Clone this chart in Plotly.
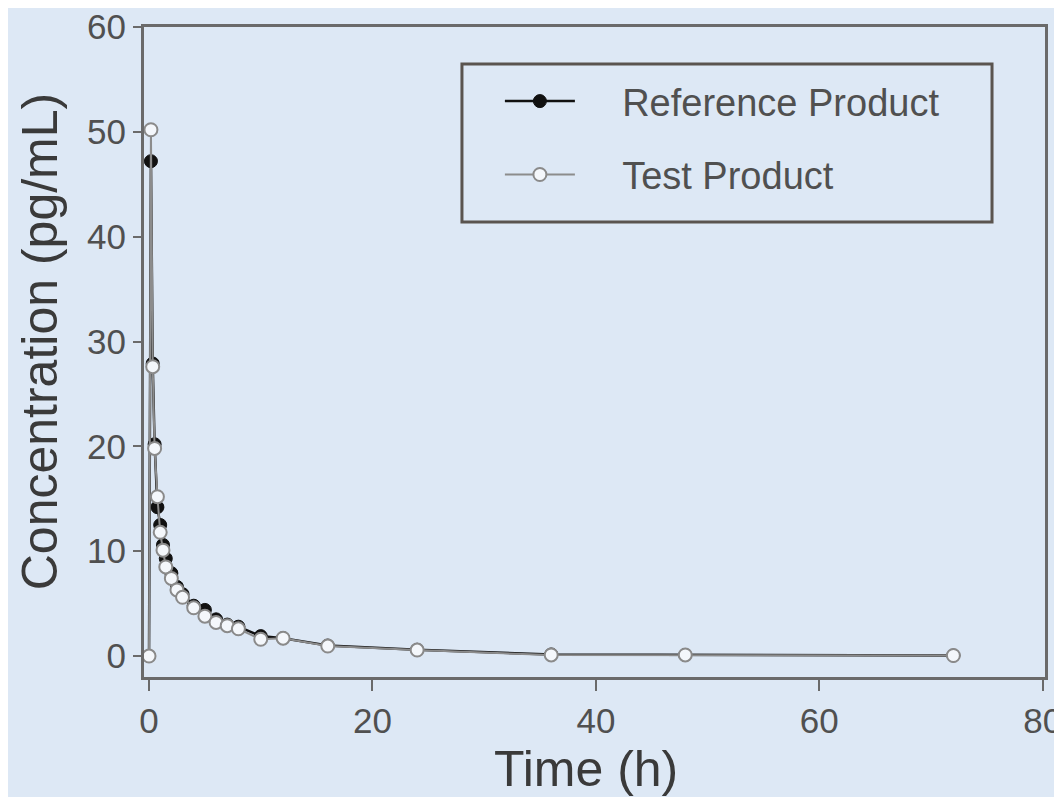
import plotly.graph_objects as go

# sampling times (h)
time_h = [0, 0.17, 0.33, 0.5, 0.75, 1, 1.25, 1.5, 2, 2.5, 3, 4, 5, 6, 7, 8,
          10, 12, 16, 24, 36, 48, 72]

# concentrations (pg/mL)
reference_conc = [0, 47.2, 27.9, 20.2, 14.2, 12.5, 10.6, 9.3, 7.9, 6.6, 5.9,
                  4.8, 4.4, 3.5, 3.0, 2.8, 1.9, 1.7, 1.0, 0.6, 0.15, 0.1, 0.05]
test_conc = [0, 50.2, 27.6, 19.8, 15.2, 11.8, 10.1, 8.5, 7.4, 6.3, 5.6,
             4.6, 3.8, 3.2, 2.9, 2.6, 1.6, 1.7, 0.95, 0.57, 0.1, 0.1, 0.05]

x_ticks = [0, 20, 40, 60, 80]
y_ticks = [0, 10, 20, 30, 40, 50, 60]

BG = "#dde8f5"
AXIS = "#6a6a6a"
TEXT = "#505050"
FONT = "Arial, Liberation Sans, sans-serif"
PAD = "\u00a0" * 4  # gap between legend symbol and label

fig = go.Figure()

fig.add_trace(go.Scatter(
    x=time_h, y=reference_conc,
    name=PAD + "Reference Product",
    mode="lines+markers",
    legendgroup="ref",
    line=dict(color="#111111", width=2.5),
    marker=dict(size=13, color="#111111", line=dict(color="#111111", width=1)),
))

fig.add_trace(go.Scatter(
    x=time_h, y=test_conc,
    name=PAD + "Test Product",
    mode="lines+markers",
    legendgroup="test",
    line=dict(color="#8c8c8c", width=2),
    marker=dict(size=13, color="#f4f7fb", line=dict(color="#8a8a8a", width=2)),
))

axis_common = dict(
    showline=True, linecolor=AXIS, linewidth=3, mirror=True,
    showgrid=False, zeroline=False,
    ticks="outside", tickcolor=AXIS, tickwidth=2,
    ticklabeloverflow="allow", automargin=False,
    tickfont=dict(family=FONT, size=35, color=TEXT),
)

fig.update_layout(
    width=1054, height=789,
    paper_bgcolor=BG, plot_bgcolor=BG,
    margin=dict(l=136, r=17, t=19, b=120),
    xaxis=dict(range=[-0.45, 80.2], tickvals=x_ticks, ticklen=11, **axis_common),
    yaxis=dict(range=[-2, 60], tickvals=y_ticks, ticklen=8, **axis_common),
    showlegend=True,
    legend=dict(
        x=0.395, y=0.934, xanchor="left", yanchor="top",
        bgcolor="rgba(0,0,0,0)", borderwidth=0,
        font=dict(family=FONT, size=38, color=TEXT),
        itemwidth=70, tracegroupgap=21,
    ),
    shapes=[
        # legend frame
        dict(type="rect", xref="paper", yref="paper",
             x0=0.3529, x1=0.9412, y0=0.70, y1=0.943,
             line=dict(color="#5a544f", width=3), layer="below"),
    ],
    annotations=[
        dict(text="Time (h)", xref="paper", yref="paper", x=0.4906, y=-0.142,
             xanchor="center", yanchor="middle", showarrow=False,
             font=dict(family=FONT, size=50, color="#3a3a3a")),
        dict(text="Concentration (pg/mL)", xref="paper", yref="paper",
             x=-0.1154, y=0.515, textangle=-90,
             xanchor="center", yanchor="middle", showarrow=False,
             font=dict(family=FONT, size=50, color="#3a3a3a")),
    ],
)

fig.write_html("out.html")
